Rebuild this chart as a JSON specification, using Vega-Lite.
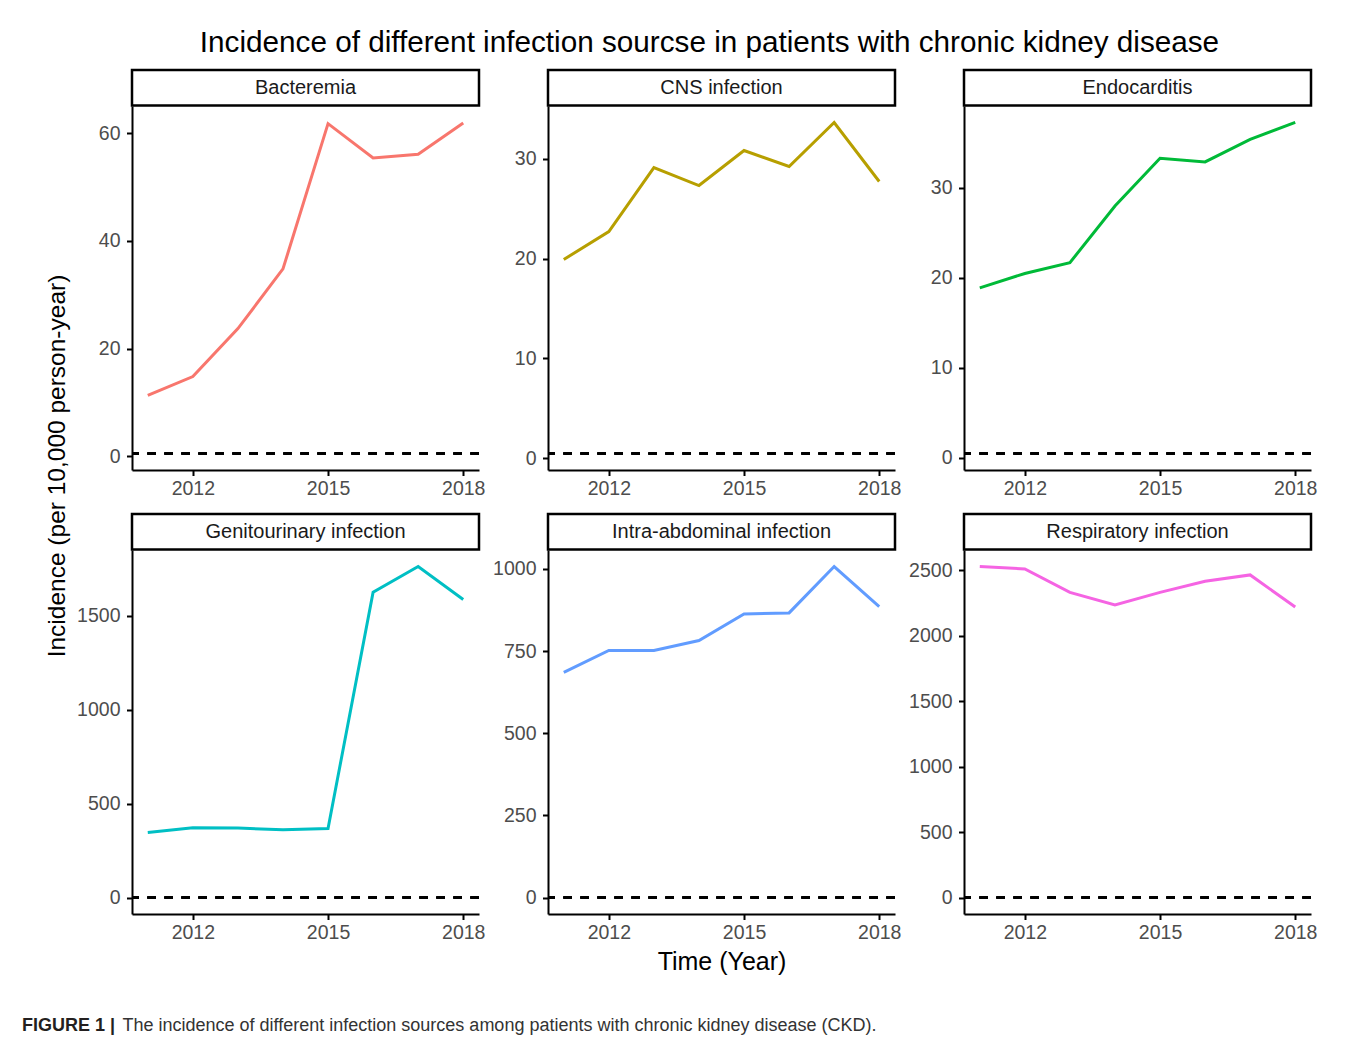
{
  "$schema": "https://vega.github.io/schema/vega-lite/v6.json",
  "autosize": {"type": "pad"},
  "padding": {"left": 22, "top": 28, "right": 10, "bottom": 5},
  "background": "white",
  "title": {"text": "Incidence of different infection sourcse in patients with chronic kidney disease", "fontSize": 29.7, "fontWeight": "normal", "color": "black", "anchor": "middle", "offset": 10, "dx": 40},
  "config": {
    "font": "Liberation Sans",
    "view": {"stroke": null},
    "axis": {"grid": false, "domainColor": "black", "domainWidth": 2, "tickColor": "black", "tickWidth": 2, "tickSize": 5.5, "labelFontSize": 19.5, "labelColor": "#4D4D4D", "labelFlush": false, "titleFontSize": 25, "titleFontWeight": "normal", "titleColor": "black", "titlePadding": 7},
    "axisX": {"labelPadding": 4},
    "axisY": {"labelPadding": 6.5}
  },
  "datasets": {
    "inc": [
      {"source": "Bacteremia", "year": 2011, "value": 11.3},
      {"source": "Bacteremia", "year": 2012, "value": 14.8},
      {"source": "Bacteremia", "year": 2013, "value": 23.7},
      {"source": "Bacteremia", "year": 2014, "value": 34.8},
      {"source": "Bacteremia", "year": 2015, "value": 61.8},
      {"source": "Bacteremia", "year": 2016, "value": 55.4},
      {"source": "Bacteremia", "year": 2017, "value": 56.1},
      {"source": "Bacteremia", "year": 2018, "value": 61.9},
      {"source": "CNS infection", "year": 2011, "value": 19.9},
      {"source": "CNS infection", "year": 2012, "value": 22.7},
      {"source": "CNS infection", "year": 2013, "value": 29.1},
      {"source": "CNS infection", "year": 2014, "value": 27.3},
      {"source": "CNS infection", "year": 2015, "value": 30.8},
      {"source": "CNS infection", "year": 2016, "value": 29.2},
      {"source": "CNS infection", "year": 2017, "value": 33.6},
      {"source": "CNS infection", "year": 2018, "value": 27.7},
      {"source": "Endocarditis", "year": 2011, "value": 18.9},
      {"source": "Endocarditis", "year": 2012, "value": 20.5},
      {"source": "Endocarditis", "year": 2013, "value": 21.7},
      {"source": "Endocarditis", "year": 2014, "value": 28.0},
      {"source": "Endocarditis", "year": 2015, "value": 33.3},
      {"source": "Endocarditis", "year": 2016, "value": 32.9},
      {"source": "Endocarditis", "year": 2017, "value": 35.4},
      {"source": "Endocarditis", "year": 2018, "value": 37.3},
      {"source": "Genitourinary infection", "year": 2011, "value": 347},
      {"source": "Genitourinary infection", "year": 2012, "value": 372},
      {"source": "Genitourinary infection", "year": 2013, "value": 370},
      {"source": "Genitourinary infection", "year": 2014, "value": 361},
      {"source": "Genitourinary infection", "year": 2015, "value": 368},
      {"source": "Genitourinary infection", "year": 2016, "value": 1626},
      {"source": "Genitourinary infection", "year": 2017, "value": 1763},
      {"source": "Genitourinary infection", "year": 2018, "value": 1587},
      {"source": "Intra-abdominal infection", "year": 2011, "value": 685},
      {"source": "Intra-abdominal infection", "year": 2012, "value": 752},
      {"source": "Intra-abdominal infection", "year": 2013, "value": 752},
      {"source": "Intra-abdominal infection", "year": 2014, "value": 782},
      {"source": "Intra-abdominal infection", "year": 2015, "value": 863},
      {"source": "Intra-abdominal infection", "year": 2016, "value": 866},
      {"source": "Intra-abdominal infection", "year": 2017, "value": 1007},
      {"source": "Intra-abdominal infection", "year": 2018, "value": 885},
      {"source": "Respiratory infection", "year": 2011, "value": 2528},
      {"source": "Respiratory infection", "year": 2012, "value": 2510},
      {"source": "Respiratory infection", "year": 2013, "value": 2331},
      {"source": "Respiratory infection", "year": 2014, "value": 2235},
      {"source": "Respiratory infection", "year": 2015, "value": 2331},
      {"source": "Respiratory infection", "year": 2016, "value": 2415},
      {"source": "Respiratory infection", "year": 2017, "value": 2464},
      {"source": "Respiratory infection", "year": 2018, "value": 2219}
    ]
  },
  "columns": 3,
  "spacing": {"row": 0, "column": 69},
  "bounds": "flush",
  "concat": [
    {"width": 347, "height": 35.5, "data": {"values": [{"label": "Bacteremia"}]}, "view": {"stroke": "black", "strokeWidth": 2.5}, "mark": {"type": "text", "fontSize": 20, "color": "#1A1A1A"}, "encoding": {"text": {"field": "label"}}},
    {"width": 347, "height": 35.5, "data": {"values": [{"label": "CNS infection"}]}, "view": {"stroke": "black", "strokeWidth": 2.5}, "mark": {"type": "text", "fontSize": 20, "color": "#1A1A1A"}, "encoding": {"text": {"field": "label"}}},
    {"width": 347, "height": 35.5, "data": {"values": [{"label": "Endocarditis"}]}, "view": {"stroke": "black", "strokeWidth": 2.5}, "mark": {"type": "text", "fontSize": 20, "color": "#1A1A1A"}, "encoding": {"text": {"field": "label"}}},
    {
      "width": 347, "height": 364,
      "data": {"name": "inc"},
      "transform": [{"filter": "datum.source === 'Bacteremia'"}],
      "layer": [
        {"mark": {"type": "rule", "color": "black", "strokeWidth": 2, "strokeDash": [8.5, 8.5]}, "encoding": {"y": {"datum": 0.5, "type": "quantitative", "scale": {"domain": [-2.575, 65.075], "nice": false, "zero": false}, "axis": {"values": [0, 20, 40, 60], "format": "d", "title": null}}}},
        {"mark": {"type": "line", "color": "#F8766D", "strokeWidth": 3}, "encoding": {
          "x": {"field": "year", "type": "quantitative", "scale": {"domain": [2010.65, 2018.35], "nice": false, "zero": false}, "axis": {"values": [2012, 2015, 2018], "format": "d", "title": null}},
          "y": {"field": "value", "type": "quantitative", "scale": {"domain": [-2.575, 65.075], "nice": false, "zero": false}, "axis": {"values": [0, 20, 40, 60], "format": "d", "title": null}}}}
      ]
    },
    {
      "width": 347, "height": 364,
      "data": {"name": "inc"},
      "transform": [{"filter": "datum.source === 'CNS infection'"}],
      "layer": [
        {"mark": {"type": "rule", "color": "black", "strokeWidth": 2, "strokeDash": [8.5, 8.5]}, "encoding": {"y": {"datum": 0.5, "type": "quantitative", "scale": {"domain": [-1.155, 35.255], "nice": false, "zero": false}, "axis": {"values": [0, 10, 20, 30], "format": "d", "title": null}}}},
        {"mark": {"type": "line", "color": "#B79F00", "strokeWidth": 3}, "encoding": {
          "x": {"field": "year", "type": "quantitative", "scale": {"domain": [2010.65, 2018.35], "nice": false, "zero": false}, "axis": {"values": [2012, 2015, 2018], "format": "d", "title": null}},
          "y": {"field": "value", "type": "quantitative", "scale": {"domain": [-1.155, 35.255], "nice": false, "zero": false}, "axis": {"values": [0, 10, 20, 30], "format": "d", "title": null}}}}
      ]
    },
    {
      "width": 347, "height": 364,
      "data": {"name": "inc"},
      "transform": [{"filter": "datum.source === 'Endocarditis'"}],
      "layer": [
        {"mark": {"type": "rule", "color": "black", "strokeWidth": 2, "strokeDash": [8.5, 8.5]}, "encoding": {"y": {"datum": 0.5, "type": "quantitative", "scale": {"domain": [-1.34, 39.11], "nice": false, "zero": false}, "axis": {"values": [0, 10, 20, 30], "format": "d", "title": null}}}},
        {"mark": {"type": "line", "color": "#00BA38", "strokeWidth": 3}, "encoding": {
          "x": {"field": "year", "type": "quantitative", "scale": {"domain": [2010.65, 2018.35], "nice": false, "zero": false}, "axis": {"values": [2012, 2015, 2018], "format": "d", "title": null}},
          "y": {"field": "value", "type": "quantitative", "scale": {"domain": [-1.34, 39.11], "nice": false, "zero": false}, "axis": {"values": [0, 10, 20, 30], "format": "d", "title": null}}}}
      ]
    },
    {"width": 347, "height": 43.5, "data": {"values": []}, "mark": "text"},
    {"width": 347, "height": 43.5, "data": {"values": []}, "mark": "text"},
    {"width": 347, "height": 43.5, "data": {"values": []}, "mark": "text"},
    {"width": 347, "height": 35.5, "data": {"values": [{"label": "Genitourinary infection"}]}, "view": {"stroke": "black", "strokeWidth": 2.5}, "mark": {"type": "text", "fontSize": 20, "color": "#1A1A1A"}, "encoding": {"text": {"field": "label"}}},
    {"width": 347, "height": 35.5, "data": {"values": [{"label": "Intra-abdominal infection"}]}, "view": {"stroke": "black", "strokeWidth": 2.5}, "mark": {"type": "text", "fontSize": 20, "color": "#1A1A1A"}, "encoding": {"text": {"field": "label"}}},
    {"width": 347, "height": 35.5, "data": {"values": [{"label": "Respiratory infection"}]}, "view": {"stroke": "black", "strokeWidth": 2.5}, "mark": {"type": "text", "fontSize": 20, "color": "#1A1A1A"}, "encoding": {"text": {"field": "label"}}},
    {
      "width": 347, "height": 364,
      "data": {"name": "inc"},
      "transform": [{"filter": "datum.source === 'Genitourinary infection'"}],
      "layer": [
        {"mark": {"type": "rule", "color": "black", "strokeWidth": 2, "strokeDash": [8.5, 8.5]}, "encoding": {"y": {"datum": 0.5, "type": "quantitative", "scale": {"domain": [-87.6, 1851], "nice": false, "zero": false}, "axis": {"values": [0, 500, 1000, 1500], "format": "d", "title": "Incidence (per 10,000 person-year)", "titleFontSize": 24.5, "titleX": -75, "titleY": -84.5, "titleBaseline": "middle", "titleAlign": "center"}}}},
        {"mark": {"type": "line", "color": "#00BFC4", "strokeWidth": 3}, "encoding": {
          "x": {"field": "year", "type": "quantitative", "scale": {"domain": [2010.65, 2018.35], "nice": false, "zero": false}, "axis": {"values": [2012, 2015, 2018], "format": "d", "title": null}},
          "y": {"field": "value", "type": "quantitative", "scale": {"domain": [-87.6, 1851], "nice": false, "zero": false}, "axis": {"values": [0, 500, 1000, 1500], "format": "d", "title": "Incidence (per 10,000 person-year)", "titleFontSize": 24.5, "titleX": -75, "titleY": -84.5, "titleBaseline": "middle", "titleAlign": "center"}}}}
      ]
    },
    {
      "width": 347, "height": 364,
      "data": {"name": "inc"},
      "transform": [{"filter": "datum.source === 'Intra-abdominal infection'"}],
      "layer": [
        {"mark": {"type": "rule", "color": "black", "strokeWidth": 2, "strokeDash": [8.5, 8.5]}, "encoding": {"y": {"datum": 0.5, "type": "quantitative", "scale": {"domain": [-49.8, 1057.3], "nice": false, "zero": false}, "axis": {"values": [0, 250, 500, 750, 1000], "format": "d", "title": null}}}},
        {"mark": {"type": "line", "color": "#619CFF", "strokeWidth": 3}, "encoding": {
          "x": {"field": "year", "type": "quantitative", "scale": {"domain": [2010.65, 2018.35], "nice": false, "zero": false}, "axis": {"values": [2012, 2015, 2018], "format": "d", "title": "Time (Year)"}},
          "y": {"field": "value", "type": "quantitative", "scale": {"domain": [-49.8, 1057.3], "nice": false, "zero": false}, "axis": {"values": [0, 250, 500, 750, 1000], "format": "d", "title": null}}}}
      ]
    },
    {
      "width": 347, "height": 364,
      "data": {"name": "inc"},
      "transform": [{"filter": "datum.source === 'Respiratory infection'"}],
      "layer": [
        {"mark": {"type": "rule", "color": "black", "strokeWidth": 2, "strokeDash": [8.5, 8.5]}, "encoding": {"y": {"datum": 0.5, "type": "quantitative", "scale": {"domain": [-125.9, 2654.4], "nice": false, "zero": false}, "axis": {"values": [0, 500, 1000, 1500, 2000, 2500], "format": "d", "title": null}}}},
        {"mark": {"type": "line", "color": "#F564E3", "strokeWidth": 3}, "encoding": {
          "x": {"field": "year", "type": "quantitative", "scale": {"domain": [2010.65, 2018.35], "nice": false, "zero": false}, "axis": {"values": [2012, 2015, 2018], "format": "d", "title": null}},
          "y": {"field": "value", "type": "quantitative", "scale": {"domain": [-125.9, 2654.4], "nice": false, "zero": false}, "axis": {"values": [0, 500, 1000, 1500, 2000, 2500], "format": "d", "title": null}}}}
      ]
    },
    {"width": 347, "height": 96.5, "data": {"values": []}, "mark": "text"},
    {"width": 347, "height": 96.5, "data": {"values": []}, "mark": "text"},
    {"width": 347, "height": 96.5, "data": {"values": []}, "mark": "text"},
    {
      "width": 347, "height": 30,
      "data": {"values": [{"a": "FIGURE 1 |", "b": "The incidence of different infection sources among patients with chronic kidney disease (CKD)."}]},
      "layer": [
        {"mark": {"type": "text", "align": "left", "fontSize": 18, "fontWeight": "bold", "color": "#231F20", "dx": -283.5}, "encoding": {"text": {"field": "a"}}},
        {"mark": {"type": "text", "align": "left", "fontSize": 18, "color": "#333333", "dx": -183}, "encoding": {"text": {"field": "b"}}}
      ]
    },
    {"width": 347, "height": 30, "data": {"values": []}, "mark": "text"},
    {"width": 347, "height": 30, "data": {"values": []}, "mark": "text"}
  ]
}
